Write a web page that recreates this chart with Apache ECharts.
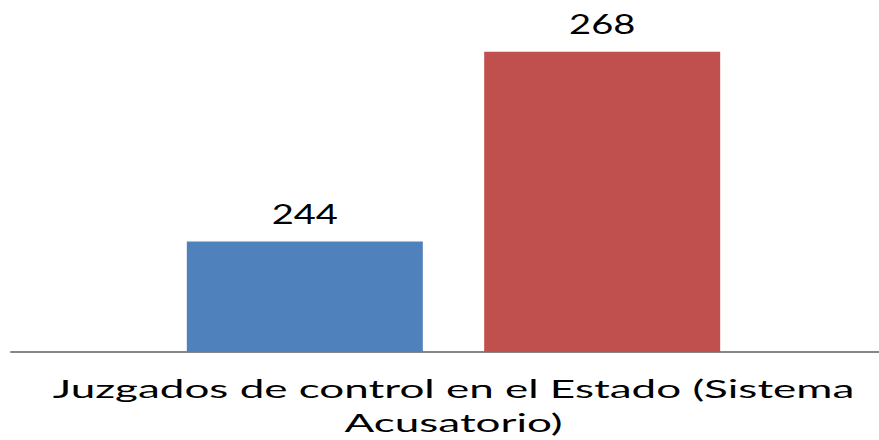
<!DOCTYPE html>
<html>
<head>
<meta charset="utf-8">
<style>
  html, body { margin: 0; padding: 0; background: #fff; }
  #chart { width: 879px; height: 440px; }
</style>
</head>
<body>
<div id="chart"></div>
<script src="https://cdn.jsdelivr.net/npm/echarts@6/dist/echarts.min.js"></script>
<script>
  // datos
  var categorias = ['Juzgados de control en el Estado (Sistema Acusatorio)'];
  var serieA = [244];
  var serieB = [268];
  var ejeMin = 230;
  var ejeMax = 270;

  // el texto del original viene estirado a lo ancho
  var escalaCat = 1.76;
  var escalaNum = 1.41;

  var chart = echarts.init(document.getElementById('chart'), null, { renderer: 'svg' });

  var etiqueta = {
    show: true,
    position: 'top',
    distance: 15,
    color: '#000',
    fontFamily: 'Lato',
    fontSize: 27
  };

  var option = {
    animation: false,
    grid: [
      // grid 0 solo para la linea base, mas ancha
      { left: 11, right: 0, top: 36, bottom: 88, outerBoundsMode: 'none' },
      { left: 28, right: 0, top: 36, bottom: 88, outerBoundsMode: 'none' }
    ],
    xAxis: [
      {
        gridIndex: 0,
        type: 'category',
        data: categorias,
        axisLine: { show: true, lineStyle: { color: '#868686', width: 2 } },
        axisTick: { show: false },
        axisLabel: { show: false }
      },
      {
        gridIndex: 1,
        type: 'category',
        data: categorias,
        axisLine: { show: false },
        axisTick: { show: false },
        axisLabel: {
          margin: 20,
          color: '#000',
          fontFamily: 'Lato',
          fontSize: 25,
          lineHeight: 34,
          formatter: function (v) { return v.replace('(Sistema ', '(Sistema\n'); }
        }
      }
    ],
    yAxis: [
      { gridIndex: 0, type: 'value', min: ejeMin, max: ejeMax, show: false },
      { gridIndex: 1, type: 'value', min: ejeMin, max: ejeMax, show: false }
    ],
    series: [
      {
        type: 'bar',
        xAxisIndex: 1,
        yAxisIndex: 1,
        data: serieA,
        barWidth: 236,
        barGap: '26%',
        itemStyle: { color: '#4F81BD' },
        label: etiqueta
      },
      {
        type: 'bar',
        xAxisIndex: 1,
        yAxisIndex: 1,
        data: serieB,
        barWidth: 236,
        barGap: '26%',
        itemStyle: { color: '#C0504D' },
        label: etiqueta
      }
    ]
  };

  // estira cada texto a lo ancho sobre su propio centro
  function estirarTextos() {
    var textos = document.querySelectorAll('#chart svg text');
    for (var i = 0; i < textos.length; i++) {
      var t = textos[i];
      if (t.getAttribute('data-estirado')) continue;
      var fs = parseFloat(getComputedStyle(t).fontSize);
      var s = fs > 26 ? escalaNum : escalaCat;
      var b = t.getBBox();
      var cx = b.x + b.width / 2;
      var cy = b.y + b.height / 2;
      var tr = t.getAttribute('transform') || '';
      t.setAttribute('transform', tr + ' translate(' + cx + ' ' + cy + ') scale(' + s + ' 1) translate(' + (-cx) + ' ' + (-cy) + ')');
      t.setAttribute('data-estirado', '1');
    }
  }

  chart.on('finished', estirarTextos);
  chart.setOption(option);
  estirarTextos();
</script>
</body>
</html>
